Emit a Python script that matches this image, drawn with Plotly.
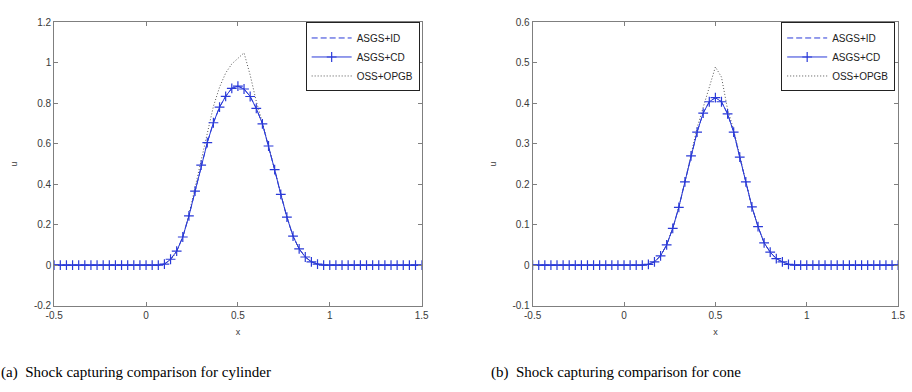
import plotly.graph_objects as go

# ---------------- data ----------------
N = 61
x_vals = [-0.5 + k / 30 for k in range(N)]

# (a) cylinder
cyl_cd_core = {18: 0.005, 19: 0.029, 20: 0.069, 21: 0.139, 22: 0.243, 23: 0.366, 24: 0.494,
               25: 0.606, 26: 0.704, 27: 0.781, 28: 0.835, 29: 0.874, 30: 0.885, 31: 0.871,
               32: 0.834, 33: 0.775, 34: 0.699, 35: 0.589, 36: 0.472, 37: 0.350, 38: 0.237,
               39: 0.143, 40: 0.080, 41: 0.040, 42: 0.016, 43: 0.005}
cyl_oss_core = {18: 0.004, 19: 0.025, 20: 0.065, 21: 0.140, 22: 0.250, 23: 0.380, 24: 0.515,
                25: 0.650, 26: 0.785, 27: 0.880, 28: 0.950, 29: 0.995, 30: 1.025, 31: 1.050,
                32: 0.940, 33: 0.810, 34: 0.705, 35: 0.592, 36: 0.474, 37: 0.352, 38: 0.240,
                39: 0.146, 40: 0.082, 41: 0.041, 42: 0.017, 43: 0.005}
cyl_cd = [cyl_cd_core.get(k, 0.0) for k in range(N)]
cyl_id = [cyl_cd_core.get(k, 0.0) for k in range(N)]
cyl_oss = [cyl_oss_core.get(k, 0.0) for k in range(N)]

# (b) cone
cone_cd_core = {19: 0.002, 20: 0.008, 21: 0.023, 22: 0.050, 23: 0.091, 24: 0.143, 25: 0.206,
                26: 0.270, 27: 0.329, 28: 0.376, 29: 0.404, 30: 0.414, 31: 0.404, 32: 0.374,
                33: 0.329, 34: 0.267, 35: 0.206, 36: 0.144, 37: 0.095, 38: 0.055, 39: 0.032,
                40: 0.016, 41: 0.008, 42: 0.002}
cone_oss_core = dict(cone_cd_core)
cone_oss_core.update({26: 0.275, 27: 0.340, 28: 0.390, 29: 0.440, 30: 0.490, 31: 0.465,
                      32: 0.385, 33: 0.335, 34: 0.270})
cone_cd = [cone_cd_core.get(k, 0.0) for k in range(N)]
cone_id = [cone_cd_core.get(k, 0.0) for k in range(N)]
cone_oss = [cone_oss_core.get(k, 0.0) for k in range(N)]

series_names = ["ASGS+ID", "ASGS+CD", "OSS+OPGB"]

x_ticks = [-0.5, 0, 0.5, 1, 1.5]
x_ticktext = ["-0.5", "0", "0.5", "1", "1.5"]
y1_ticks = [-0.2, 0, 0.2, 0.4, 0.6, 0.8, 1.0, 1.2]
y1_ticktext = ["-0.2", "0", "0.2", "0.4", "0.6", "0.8", "1", "1.2"]
y2_ticks = [-0.1, 0, 0.1, 0.2, 0.3, 0.4, 0.5, 0.6]
y2_ticktext = ["-0.1", "0", "0.1", "0.2", "0.3", "0.4", "0.5", "0.6"]

captions = ["(a)  Shock capturing comparison for cylinder",
            "(b)  Shock capturing comparison for cone"]

# ---------------- figure ----------------
W, H = 912, 392
BLUE = "#2a3ad8"
GRAYTXT = "#3a3a3a"
fig = go.Figure()

def add_panel(xa, ya, leg, vid, vcd, voss):
    # draw order: dashed and dotted first (below), then solid with markers
    fig.add_trace(go.Scatter(x=x_vals, y=vid, mode="lines", name=series_names[0],
                             line=dict(color=BLUE, width=1, dash="6px,3px"),
                             xaxis=xa, yaxis=ya, legend=leg, legendrank=1))
    fig.add_trace(go.Scatter(x=x_vals, y=voss, mode="lines", name=series_names[2],
                             line=dict(color="#555555", width=1, dash="1px,2px"),
                             xaxis=xa, yaxis=ya, legend=leg, legendrank=3))
    fig.add_trace(go.Scatter(x=x_vals, y=vcd, mode="lines+markers", name=series_names[1],
                             line=dict(color=BLUE, width=1),
                             marker=dict(symbol="cross-thin", size=7,
                                         line=dict(color=BLUE, width=1.2)),
                             xaxis=xa, yaxis=ya, legend=leg, legendrank=2))

add_panel("x", "y", "legend", cyl_id, cyl_cd, cyl_oss)
add_panel("x2", "y2", "legend2", cone_id, cone_cd, cone_oss)

axis_common = dict(showline=True, linecolor="#7f7f7f", linewidth=1, mirror="ticks",
                   ticks="inside", ticklen=4, tickcolor="#7f7f7f", showgrid=False,
                   zeroline=False, tickfont=dict(family="Liberation Sans", size=10, color=GRAYTXT))
title_font = dict(family="Liberation Sans", size=9, color=GRAYTXT)

ytop = 1 - 17 / H
ybot = 1 - 309 / H

legend_common = dict(xanchor="right", yanchor="top", bordercolor="#222222", borderwidth=1,
                     bgcolor="white", font=dict(family="Liberation Sans", size=10, color="#222222"),
                     tracegroupgap=0, itemwidth=40, traceorder="normal")

fig.update_layout(
    width=W, height=H, margin=dict(l=0, r=0, t=0, b=0),
    paper_bgcolor="white", plot_bgcolor="white",
    xaxis=dict(domain=[46 / W, 420 / W], range=[-0.5, 1.5], tickvals=x_ticks, ticktext=x_ticktext,
               anchor="y", title=dict(text="x", font=title_font, standoff=9), **axis_common),
    yaxis=dict(domain=[ybot, ytop], range=[-0.2, 1.2], tickvals=y1_ticks, ticktext=y1_ticktext,
               anchor="x", title=dict(text="u", font=title_font, standoff=14), **axis_common),
    xaxis2=dict(domain=[533 / W, 905 / W], range=[-0.5, 1.5], tickvals=x_ticks, ticktext=x_ticktext,
                anchor="y2", title=dict(text="x", font=title_font, standoff=9), **axis_common),
    yaxis2=dict(domain=[ybot, ytop], range=[-0.1, 0.6], tickvals=y2_ticks, ticktext=y2_ticktext,
                anchor="x2", title=dict(text="u", font=title_font, standoff=14), **axis_common),
    legend=dict(x=418 / W, y=1 - 17 / H, **legend_common),
    legend2=dict(x=902 / W, y=1 - 17 / H, **legend_common),
    showlegend=True,
)

cap_x = [129 / W, 618 / W]
for cx, txt in zip(cap_x, captions):
    fig.add_annotation(x=cx, y=1 - 378 / H, xref="paper", yref="paper", text=txt, showarrow=False,
                       xanchor="center", yanchor="middle",
                       font=dict(family="Liberation Serif", size=15, color="black"))

fig.write_html("out.html")
